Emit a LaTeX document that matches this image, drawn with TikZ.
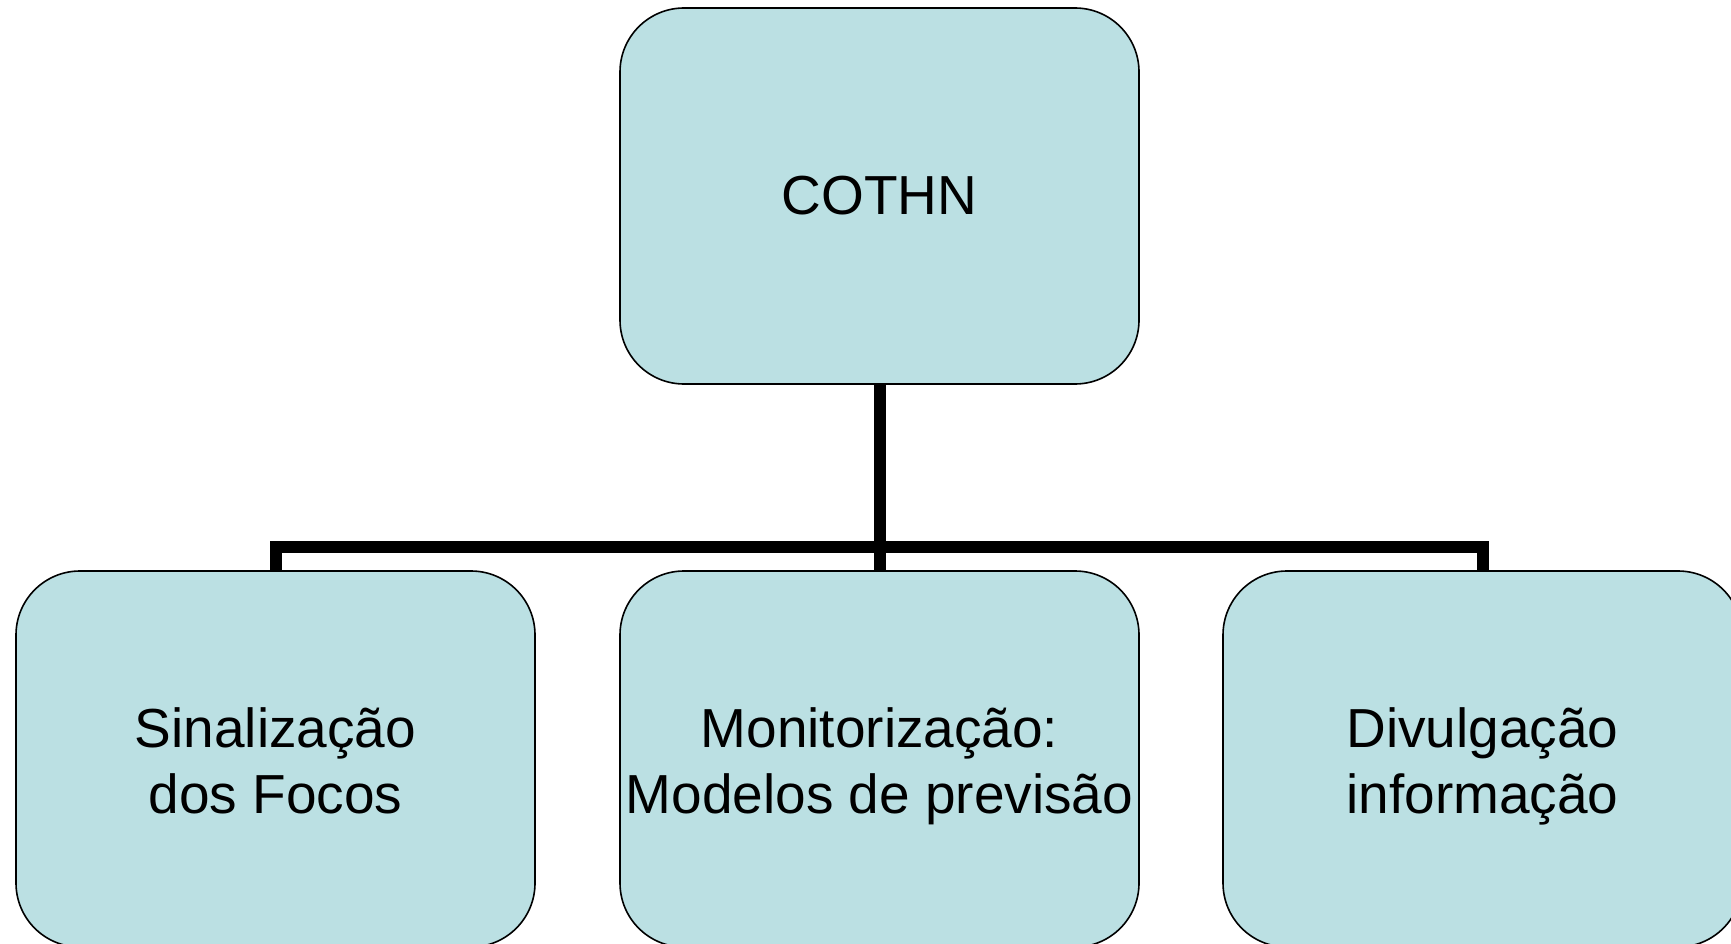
\documentclass[tikz,border=0pt]{standalone}
\usepackage{fontspec}
\setmainfont{Liberation Sans}
\usetikzlibrary{backgrounds}
\definecolor{boxfill}{HTML}{BBE0E3}
\newcommand{\firststrut}{\rule{0pt}{62pt}}
\tikzset{
  orgbox/.style={draw=black, line width=1.6pt, fill=boxfill, rounded corners=64pt,
    minimum width=519pt, minimum height=376pt, inner sep=0pt, align=center,
    font=\fontsize{55}{66}\selectfont},
  conn/.style={draw=black, line width=12pt, line join=miter}
}
\begin{document}
\begin{tikzpicture}[x=1pt,y=-1pt]
\useasboundingbox (0,0) rectangle (1731,944);
\node[orgbox] (top) at (879.5,196) {COTHN};
\node[orgbox] (left) at (275.5,759) {\firststrut Sinalização\\\strut dos Focos};
\node[orgbox] (mid) at (879.5,759) {\firststrut Monitorização:\\\strut Modelos de previsão};
\node[orgbox] (right) at (1482.5,759) {\firststrut Divulgação\\\strut informação};
\coordinate (bar) at (0,547);
\begin{scope}[on background layer]
\fill[white] (0,0) rectangle (1731,944);
\draw[conn] (top.south) -- (mid.north);
\draw[conn] (left.north) -- (left.north |- bar) -- (right.north |- bar) -- (right.north);
\end{scope}
\end{tikzpicture}
\end{document}
